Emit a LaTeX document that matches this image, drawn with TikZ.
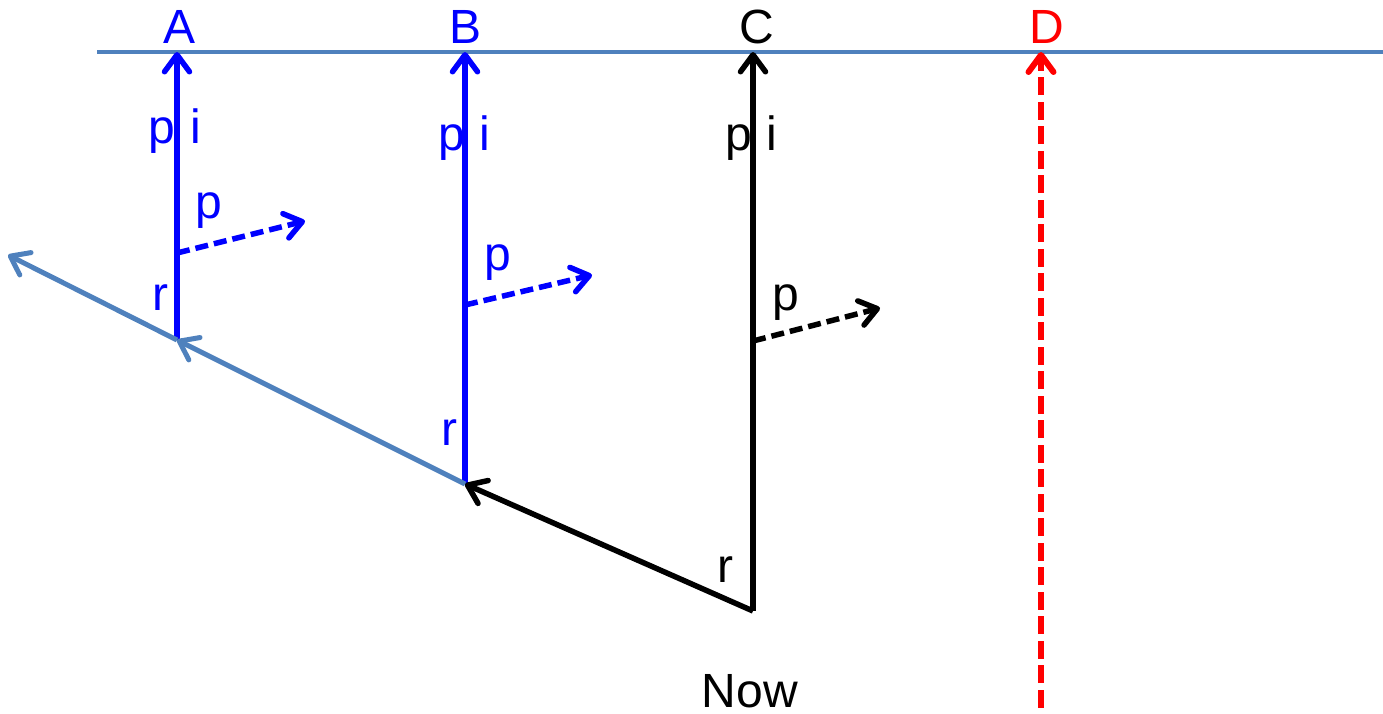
\documentclass[tikz,border=0pt]{standalone}
\usepackage{fontspec}
\setmainfont{Liberation Sans}
\usetikzlibrary{arrows.meta}
\definecolor{steel}{RGB}{79,129,189}
\definecolor{pblue}{RGB}{0,0,255}
\definecolor{pred}{RGB}{255,0,0}
\begin{document}
\begin{tikzpicture}[x=1pt,y=-1pt,
  tipv/.style={-{Straight Barb[length=17pt,width=25pt,round]}},
  lbl/.style={font=\fontsize{48}{56}\selectfont, anchor=base, inner sep=0pt},
  vline/.style={line width=5.5pt, tipv},
  pdash/.style={line width=5.5pt, dash pattern=on 13pt off 6pt, tipv},
  timeline/.style={line width=4.5pt, steel}]
\useasboundingbox (0,0) rectangle (1383,713);
% coordinates
\coordinate (L) at (97,52);
\coordinate (R) at (1383,52);
\coordinate (Atop) at (177,52);
\coordinate (Abot) at (177,340);
\coordinate (Btop) at (465,52);
\coordinate (Bbot) at (465,484);
\coordinate (Ctop) at (753,52);
\coordinate (Cbot) at (753,611);
\coordinate (Dtop) at (1041,52);
\coordinate (Dbot) at (1041,713);
\coordinate (Far) at (8,255);
\coordinate (Ap0) at (177,253);
\coordinate (Ap1) at (305,221);
\coordinate (Bp0) at (465,305);
\coordinate (Bp1) at (592,275);
\coordinate (Cp0) at (753,341);
\coordinate (Cp1) at (880,308);
% time line
\draw[timeline] (L) -- (R);
% verticals
\draw[vline, pblue] (Abot) -- (Atop);
\draw[vline, pblue] (Bbot) -- (Btop);
\draw[vline, black] (Cbot) -- (Ctop);
\draw[line width=6pt, pred, dash pattern=on 18pt off 6.5pt, dash phase=19pt, tipv] (Dbot) -- (Dtop);
% dashed p arrows
\draw[pdash, pblue] (Ap0) -- (Ap1);
\draw[pdash, pblue] (Bp0) -- (Bp1);
\draw[pdash, black] (Cp0) -- (Cp1);
% diagonal chain
\draw[line width=5.5pt, black, tipv] (Cbot) -- (Bbot);
\draw[line width=5pt, steel, tipv] (Bbot) -- (Abot);
\draw[line width=5pt, steel, tipv] (Abot) -- (Far);
% labels
\node[lbl, pblue] (lA) at (180,43) {A};
\node[lbl, pblue] (lB) at (466,43) {B};
\node[lbl, black] (lC) at (757,43) {C};
\node[lbl, pred] (lD) at (1047,43) {D};
\node[lbl, pblue] (pA) at (162,143) {p};
\node[lbl, pblue] (iA) at (196,143) {i};
\node[lbl, pblue] (pB) at (452,150) {p};
\node[lbl, pblue] (iB) at (485,150) {i};
\node[lbl, black] (pC) at (739,150) {p};
\node[lbl, black] (iC) at (772,150) {i};
\node[lbl, pblue] (qA) at (209,218) {p};
\node[lbl, pblue] (qB) at (498,270) {p};
\node[lbl, black] (qC) at (786,310) {p};
\node[lbl, pblue] (rA) at (160,310) {r};
\node[lbl, pblue] (rB) at (449,445) {r};
\node[lbl, black] (rC) at (725,582) {r};
\node[lbl, black] (now) at (750,707) {Now};
\end{tikzpicture}
\end{document}
